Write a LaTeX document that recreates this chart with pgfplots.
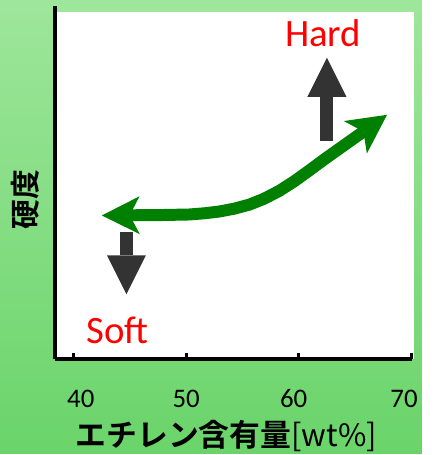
\documentclass[border=0pt]{standalone}
\usepackage{fontspec}
\setmainfont{Carlito}
\newfontfamily\cjk{Noto Sans CJK JP}[BoldFont={Noto Sans CJK JP Bold}]
\usepackage{pgfplots}
\pgfplotsset{compat=1.18}
\usetikzlibrary{arrows.meta}
\definecolor{bgtop}{RGB}{158,230,155}
\definecolor{bgbot}{RGB}{106,212,106}
\definecolor{darr}{RGB}{51,51,51}
\definecolor{garr}{RGB}{0,128,0}

\begin{document}
\begin{tikzpicture}[x=1bp,y=1bp]
\shade[top color=bgtop,bottom color=bgbot] (0,0) rectangle (423,455);
\begin{axis}[
  at={(55bp,95bp)}, anchor=south west,
  scale only axis, width=358bp, height=354bp,
  xmin=38.31, xmax=70.09, ymin=0, ymax=354,
  axis x line=bottom, axis y line=left,
  axis line style={line width=4.5bp, -, black},
  axis on top,
  ytick=\empty, xtick={40,50,60,70},
  % labels sit a little off their ticks in the original
  xticklabels={\hspace*{14bp}40, 50, 60\hspace*{10bp}, 70\hspace*{14bp}},
  tick align=inside, major tick length=6bp,
  tick style={line width=3bp, black},
  xticklabel style={anchor=base, yshift=-48bp, font=\fontsize{27}{27}\selectfont},
  xlabel={{\bfseries エチレン含有量}[wt\%]},
  xlabel style={at={(rel axis cs:0.48,-0.2175)}, anchor=center,
    font=\cjk\fontsize{31}{31}\selectfont},
  ylabel={硬度},
  ylabel style={at={(rel axis cs:-0.0838,0.452)}, anchor=center,
    font=\cjk\bfseries\fontsize{30}{30}\selectfont},
  clip=false,
]
% white plotting area
\fill[white] (axis cs:38.45,0) rectangle (axis cs:70.27,348);

% green curved double arrow (centre line)
\addplot[garr, line width=12bp, sharp plot, line join=round,
  arrows={Stealth[length=38bp,width=38bp,inset=10bp,line width=0pt]-Stealth[length=39bp,width=40bp,inset=10bp,line width=0pt]}]
  coordinates {
    (42.485,144) (47.633,144.4) (50.296,145) (51.627,146.2) (52.958,148)
    (54.290,150.85) (55.621,154.9) (56.952,160.9) (58.283,168.7)
    (59.615,178.3) (60.946,189.1) (62.277,200.2) (67.869,244.9)
  };

% gray arrows
\addplot[darr, line width=13bp, arrows={-Triangle[length=39bp,width=39bp,line width=0pt]}]
  coordinates {(62.52,219) (62.52,302)};
\addplot[darr, line width=13bp, arrows={-Triangle[length=39bp,width=39bp,line width=0pt]}]
  coordinates {(44.68,127) (44.68,65)};

\node[text=red, font=\fontsize{39}{39}\selectfont] at (axis cs:62.19,327) {Hard};
\node[text=red, font=\fontsize{39}{39}\selectfont] at (axis cs:43.90,29) {Soft};
\end{axis}
\end{tikzpicture}
\end{document}
